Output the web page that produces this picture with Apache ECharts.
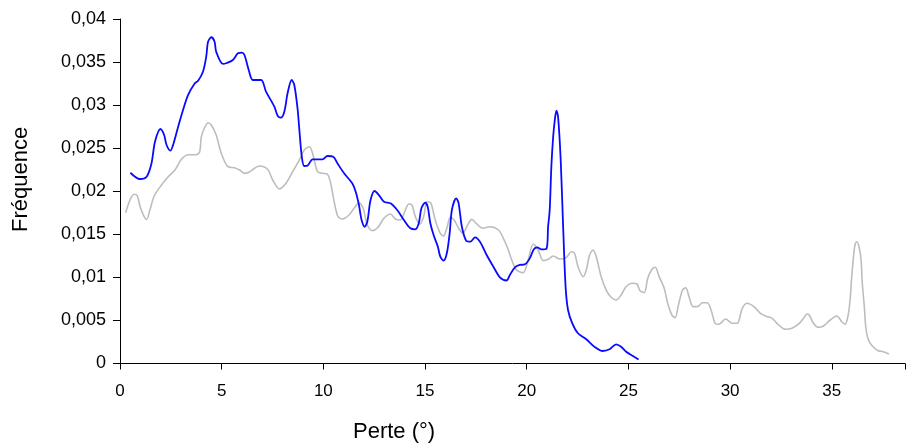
<!DOCTYPE html>
<html>
<head>
<meta charset="utf-8">
<script src="https://cdn.jsdelivr.net/npm/echarts@6/dist/echarts.min.js"></script>
<style>html,body{margin:0;padding:0;background:#fff;}#c{width:908px;height:447px;}</style>
</head>
<body>
<div id="c"></div>
<script>
const xTitle = "Perte (°)";
const yTitle = "Fréquence";
const xTicks = [0, 5, 10, 15, 20, 25, 30, 35];
const yTicks = ["0", "0,005", "0,01", "0,015", "0,02", "0,025", "0,03", "0,035", "0,04"];

const blueX = [0.51,0.98,1.31,1.55,1.72,1.99,2.17,2.29,2.48,2.61,2.86,3.10,3.35,3.68,3.84,4.08,4.24,4.33,4.49,4.65,4.73,5.06,5.22,5.55,5.80,5.99,6.12,6.33,6.53,6.94,7.18,7.59,7.75,7.91,8.08,8.24,8.44,8.57,8.73,8.82,8.94,9.06,9.22,9.47,9.96,10.20,10.49,10.69,11.02,11.42,11.59,11.75,11.88,12.03,12.16,12.32,12.52,12.73,12.98,13.30,13.63,13.96,14.28,14.52,14.69,14.82,15.01,15.13,15.26,15.42,15.63,15.75,15.91,16.07,16.21,16.32,16.53,16.65,16.81,17.02,17.22,17.46,17.70,18.03,18.36,18.68,19.01,19.17,19.42,19.66,19.91,20.15,20.35,20.51,20.72,20.97,21.05,21.13,21.21,21.30,21.38,21.46,21.54,21.67,21.79,21.91,22.03,22.24,22.52,22.93,23.33,23.74,24.07,24.40,24.64,24.89,25.18,25.50];
const blueY = [0.02215,0.02142,0.02169,0.02325,0.02575,0.02723,0.02653,0.02537,0.02471,0.02537,0.02750,0.02943,0.03118,0.03253,0.03284,0.03388,0.03562,0.03736,0.03788,0.03736,0.03620,0.03478,0.03486,0.03524,0.03602,0.03609,0.03582,0.03408,0.03292,0.03292,0.03156,0.02982,0.02877,0.02854,0.02924,0.03137,0.03292,0.03234,0.02963,0.02711,0.02401,0.02293,0.02297,0.02371,0.02371,0.02409,0.02401,0.02325,0.02208,0.02092,0.01995,0.01840,0.01666,0.01588,0.01646,0.01898,0.02003,0.01956,0.01879,0.01860,0.01782,0.01666,0.01570,0.01558,0.01628,0.01802,0.01867,0.01821,0.01628,0.01492,0.01356,0.01240,0.01194,0.01280,0.01512,0.01782,0.01918,0.01860,0.01588,0.01426,0.01414,0.01465,0.01414,0.01260,0.01124,0.01001,0.00964,0.01028,0.01117,0.01144,0.01152,0.01221,0.01326,0.01349,0.01326,0.01333,0.01588,0.01782,0.02285,0.02633,0.02827,0.02935,0.02866,0.02363,0.01588,0.00892,0.00621,0.00467,0.00351,0.00281,0.00195,0.00145,0.00165,0.00223,0.00195,0.00137,0.00093,0.00046];

const grayX = [0.28,0.49,0.70,0.85,0.98,1.15,1.31,1.47,1.68,2.04,2.37,2.70,3.02,3.35,3.75,3.92,4.00,4.17,4.33,4.49,4.73,4.98,5.31,5.63,5.88,6.12,6.33,6.86,7.26,7.51,7.84,8.16,8.49,8.82,9.06,9.31,9.47,9.71,9.96,10.20,10.36,10.53,10.72,10.94,11.26,11.51,11.75,11.96,12.16,12.40,12.67,12.98,13.30,13.54,13.79,14.03,14.20,14.36,14.52,14.74,14.93,15.10,15.29,15.50,15.75,15.91,16.07,16.24,16.43,16.65,16.86,17.09,17.30,17.54,17.84,18.19,18.61,18.85,19.07,19.26,19.50,19.83,20.07,20.32,20.56,20.81,21.05,21.30,21.62,21.95,22.19,22.35,22.52,22.77,22.93,23.09,23.26,23.42,23.66,23.91,24.15,24.40,24.64,24.88,25.18,25.42,25.57,25.78,25.95,26.16,26.32,26.51,26.76,26.93,27.14,27.30,27.46,27.66,27.82,27.98,28.18,28.39,28.64,28.88,29.09,29.26,29.45,29.78,30.11,30.35,30.60,30.84,31.17,31.49,31.79,32.07,32.39,32.72,33.04,33.37,33.61,33.78,33.89,34.10,34.32,34.59,34.92,35.25,35.49,35.65,35.79,35.90,35.98,36.06,36.14,36.23,36.34,36.44,36.50,36.60,36.67,36.79,36.99,37.28,37.53,37.81];
const grayY = [0.01751,0.01898,0.01965,0.01948,0.01829,0.01724,0.01674,0.01782,0.01945,0.02073,0.02169,0.02247,0.02371,0.02424,0.02424,0.02459,0.02633,0.02743,0.02796,0.02769,0.02653,0.02441,0.02285,0.02273,0.02247,0.02208,0.02221,0.02293,0.02255,0.02131,0.02026,0.02092,0.02227,0.02363,0.02479,0.02517,0.02441,0.02227,0.02208,0.02197,0.02092,0.01879,0.01705,0.01678,0.01724,0.01802,0.01867,0.01802,0.01608,0.01542,0.01576,0.01686,0.01736,0.01678,0.01666,0.01782,0.01852,0.01840,0.01705,0.01620,0.01705,0.01879,0.01860,0.01666,0.01512,0.01480,0.01570,0.01698,0.01666,0.01570,0.01512,0.01608,0.01674,0.01620,0.01570,0.01588,0.01550,0.01454,0.01335,0.01202,0.01086,0.01054,0.01202,0.01388,0.01318,0.01194,0.01210,0.01248,0.01213,0.01233,0.01298,0.01280,0.01124,0.01008,0.01086,0.01260,0.01318,0.01240,0.01008,0.00853,0.00769,0.00737,0.00795,0.00892,0.00931,0.00923,0.00845,0.00822,0.00989,0.01094,0.01117,0.01008,0.00873,0.00699,0.00563,0.00532,0.00679,0.00853,0.00880,0.00776,0.00660,0.00660,0.00706,0.00706,0.00601,0.00467,0.00455,0.00517,0.00467,0.00467,0.00641,0.00699,0.00660,0.00583,0.00547,0.00525,0.00447,0.00397,0.00409,0.00459,0.00525,0.00575,0.00563,0.00467,0.00420,0.00435,0.00505,0.00552,0.00485,0.00455,0.00543,0.00737,0.01008,0.01221,0.01376,0.01414,0.01356,0.01202,0.00931,0.00660,0.00427,0.00281,0.00203,0.00149,0.00137,0.00110];

const pairs = (xs, ys) => xs.map((x, i) => [x, ys[i]]);
const FONT = "Liberation Sans, Arial, sans-serif";

const chart = echarts.init(document.getElementById('c'), null, {renderer: 'canvas'});
chart.setOption({
  animation: false,
  backgroundColor: '#ffffff',
  grid: {left: 120, right: 0, top: 19, bottom: 83.5, containLabel: false},
  xAxis: {
    type: 'value', min: 0, max: 38.6, interval: 5,
    axisLine: {show: true, lineStyle: {color: '#000', width: 1}},
    axisTick: {show: true, length: 6, lineStyle: {color: '#000'}},
    splitLine: {show: false},
    axisLabel: {margin: 19, fontSize: 17, color: '#000', fontFamily: FONT,
      formatter: v => xTicks.includes(v) ? String(v) : ''}
  },
  yAxis: {
    type: 'value', min: 0, max: 0.04, interval: 0.005,
    axisLine: {show: true, lineStyle: {color: '#000', width: 1}},
    axisTick: {show: true, length: 7, lineStyle: {color: '#000'}},
    splitLine: {show: false},
    axisLabel: {margin: 14, fontSize: 18, color: '#000', fontFamily: FONT,
      formatter: v => yTicks[Math.round(v / 0.005)]}
  },
  graphic: [
    {type: 'text', left: 353, top: 421, style: {text: xTitle, fontSize: 22, fill: '#000', fontFamily: FONT}},
    {type: 'text', x: 10, y: 232, rotation: Math.PI / 2,
      style: {text: yTitle, fontSize: 22, fill: '#000', fontFamily: FONT}}
  ],
  series: [
    {type: 'line', data: pairs(grayX, grayY), showSymbol: false, smooth: 0.3,
      lineStyle: {color: '#bdbdbd', width: 1.6}, z: 2},
    {type: 'line', data: pairs(blueX, blueY), showSymbol: false, smooth: 0.3,
      lineStyle: {color: '#0a0aff', width: 1.8}, z: 3}
  ]
});
</script>
</body>
</html>
